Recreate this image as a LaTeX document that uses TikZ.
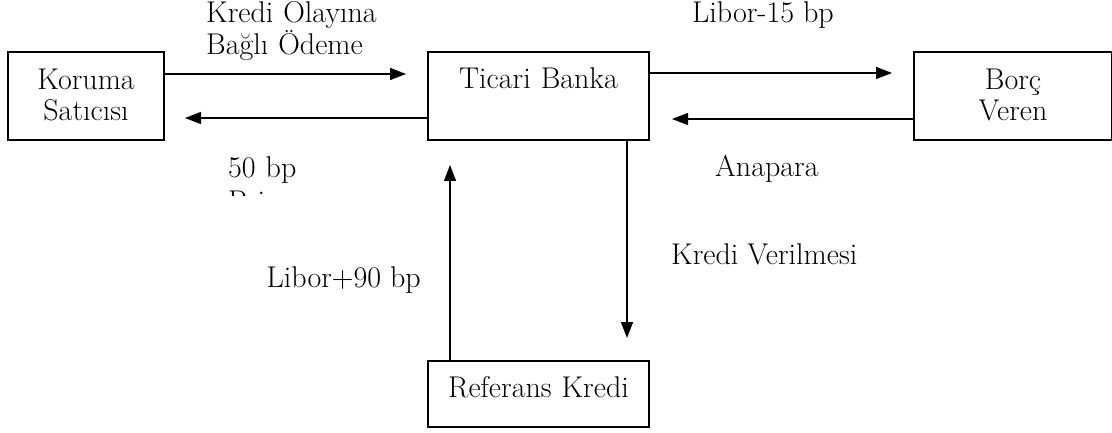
\documentclass[tikz,border=0pt]{standalone}
\usepackage{fontspec}
\usetikzlibrary{arrows.meta}

\begin{document}
\begin{tikzpicture}[x=1pt,y=-1pt,font=\fontsize{30}{31}\selectfont,
 box/.style={draw,line width=1.3pt,inner sep=0pt,align=center,anchor=base},
 lbl/.style={inner sep=0pt,anchor=base west,align=left},
 conn/.style={->,line width=1.3pt}, >={Triangle[length=16pt,width=12pt]}]
\useasboundingbox (0,0) rectangle (1112,433);
% boxes
\node[box,text width=156pt,text height=38pt,text depth=50pt] (kor) at (86,90) {Koruma\\Satıcısı};
\node[box,text width=221pt,text height=37pt,text depth=51pt] (tic) at (538.5,89) {Ticari Banka};
\node[box,text width=198pt,text height=38pt,text depth=50pt] (bor) at (1013,90) {Borç\\Veren};
\node[box,text width=221pt,text height=36pt,text depth=30pt] (ref) at (538.5,397) {Referans Kredi};
% arrow ends
\coordinate (p1) at (406,74);
\coordinate (p2) at (185,118);
\coordinate (p3) at (892,73);
\coordinate (p4) at (672,119);
\coordinate (p5) at (627,338);
\coordinate (p6) at (450,165);
\draw[conn] (p1 -| kor.east) -- (p1);
\draw[conn] (p2 -| tic.west) -- (p2);
\draw[conn] (p3 -| tic.east) -- (p3);
\draw[conn] (p4 -| bor.west) -- (p4);
\draw[conn] (p5 |- tic.south) -- (p5);
\draw[conn] (p6 |- ref.north) -- (p6);
% labels
\node[lbl,text width=6cm] (odeme) at (206,23) {Kredi Olayına\\[1pt]Bağlı Ödeme};
\begin{scope}
\clip (200,140) rectangle (360,196);
\node[lbl,text width=4cm] (prim) at (228,178) {50 bp\\[3pt]Prim};
\end{scope}
\node[lbl] (libm) at (692,23) {Libor-15 bp};
\node[lbl] (anapara) at (715,177) {Anapara};
\node[lbl] (kredi) at (671,265) {Kredi Verilmesi};
\node[lbl,anchor=base east] (libp) at (421,287) {Libor+90 bp};
\end{tikzpicture}
\end{document}
